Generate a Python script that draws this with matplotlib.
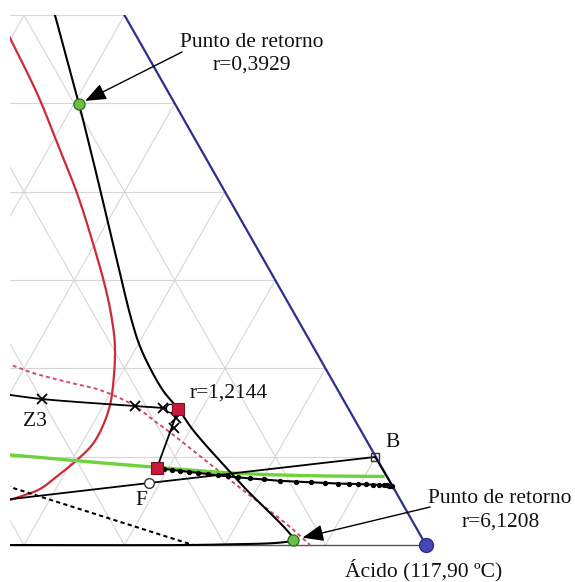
import numpy as np
import matplotlib
matplotlib.use("Agg")
import matplotlib.pyplot as plt
from matplotlib.patches import Rectangle

# compositions are (x_acido, x_top); the third component is 1 - both
H = np.sqrt(3) / 2

# boundary curve through both return points (runs along the base at the end)
bound_a = [0.3096, 0.3307, 0.3682, 0.4050, 0.4409, 0.4773, 0.5149, 0.5486, 0.5796, 0.6016,
           0.6273, 0.6527, 0.6767, 0.7031, 0.7829, 0.8649, 0.8598, 0.8438, 0.8046, 0.7652, 0.55]
bound_t = [0.6285, 0.6002, 0.5493, 0.4994, 0.4496, 0.3986, 0.3454, 0.2978, 0.2548, 0.2265,
           0.1982, 0.1733, 0.1540, 0.1302, 0.0680, 0.0057, 0.0037, 0.0019, 0.0008, 0.0, 0.0]

# liquid-liquid envelope
env_a = [0.2692, 0.2990, 0.3309, 0.3639, 0.4073, 0.4534, 0.4950, 0.5372, 0.5602, 0.5772, 0.5933,
         0.6063, 0.6113, 0.6111, 0.6046, 0.5956, 0.5842, 0.5703, 0.5606, 0.5484]
env_t = [0.6059, 0.5742, 0.5402, 0.5040, 0.4530, 0.3986, 0.3454, 0.2888, 0.2548, 0.2265, 0.1925,
         0.1586, 0.1325, 0.1133, 0.0963, 0.0804, 0.0634, 0.0555, 0.0510, 0.0453]

# dashed red curve
red_dash_a = [0.4680, 0.4842, 0.5116, 0.5505, 0.5878, 0.6292, 0.6576, 0.6772, 0.7682, 0.8545, 0.8846]
red_dash_t = [0.2061, 0.2039, 0.1948, 0.1846, 0.1755, 0.1586, 0.1416, 0.1302, 0.0736, 0.0204, 0.0]

# green curve
green_a = [0.5199, 0.5351, 0.6081, 0.6842, 0.7672, 0.8352, 0.9184]
green_t = [0.1025, 0.1019, 0.0951, 0.0883, 0.0815, 0.0787, 0.0776]

# black dashed line
black_dash_a = [0.5355, 0.7682]
black_dash_t = [0.0711, 0.0]

# mass balance line through F and B, then B down the edge
bal_a = [0.54, 0.6893, 0.8995, 0.932]
bal_t = [0.049, 0.0702, 0.0997, 0.068]
F_pt = (0.6893, 0.0702)
B_pt = (0.8995, 0.0997)

# Z3 line up to the r=1,2144 point
z3_a = [0.4850, 0.5012, 0.5352, 0.6317, 0.6607, 0.6680, 0.6767]
z3_t = [0.1721, 0.1699, 0.1653, 0.1574, 0.1552, 0.1546, 0.1540]
z3_cross_a = [0.5352, 0.6317, 0.6607, 0.6793, 0.6830]
z3_cross_t = [0.1653, 0.1574, 0.1552, 0.1438, 0.1325]
z3_circ = (0.6680, 0.1546)

# the two red squares
sq_a = [0.6767, 0.6887]
sq_t = [0.1540, 0.0872]

# stage profile
stage_a = [0.6887, 0.6963, 0.7048, 0.7132, 0.7228, 0.7323, 0.7430, 0.7535, 0.7642, 0.7746,
           0.7872, 0.8017, 0.8183, 0.8347, 0.8501, 0.8643, 0.8776, 0.8887, 0.8978, 0.9060,
           0.9131, 0.9191, 0.9243, 0.9275, 0.9296, 0.9312, 0.9323]
stage_t = [0.0872, 0.0861, 0.0851, 0.0840, 0.0828, 0.0817, 0.0803, 0.0789, 0.0777, 0.0766,
           0.0754, 0.0742, 0.0727, 0.0718, 0.0710, 0.0703, 0.0696, 0.0693, 0.0690, 0.0686,
           0.0683, 0.0681, 0.0678, 0.0674, 0.0671, 0.0669, 0.0668]

ret1 = (0.405, 0.4994)
ret2 = (0.8649, 0.0057)
acid = (1.0, 0.0)


def xy(a, t):
    a = np.asarray(a, float)
    t = np.asarray(t, float)
    return a + t / 2, t * H


def smooth(x, y, n=16):
    # centripetal Catmull-Rom through the points
    p = np.column_stack([x, y])
    p = np.vstack([2 * p[0] - p[1], p, 2 * p[-1] - p[-2]])
    out = []
    for i in range(1, len(p) - 2):
        p0, p1, p2, p3 = p[i - 1], p[i], p[i + 1], p[i + 2]
        t0 = 0.0
        t1 = t0 + np.linalg.norm(p1 - p0) ** 0.5
        t2 = t1 + np.linalg.norm(p2 - p1) ** 0.5
        t3 = t2 + np.linalg.norm(p3 - p2) ** 0.5
        s = np.linspace(t1, t2, n, endpoint=False)[:, None]
        a1 = (t1 - s) / (t1 - t0) * p0 + (s - t0) / (t1 - t0) * p1
        a2 = (t2 - s) / (t2 - t1) * p1 + (s - t1) / (t2 - t1) * p2
        a3 = (t3 - s) / (t3 - t2) * p2 + (s - t2) / (t3 - t2) * p3
        b1 = (t2 - s) / (t2 - t0) * a1 + (s - t0) / (t2 - t0) * a2
        b2 = (t3 - s) / (t3 - t1) * a2 + (s - t1) / (t3 - t1) * a3
        out.append((t2 - s) / (t2 - t1) * b1 + (s - t1) / (t2 - t1) * b2)
    out.append(p[-2][None])
    c = np.vstack(out)
    return c[:, 0], c[:, 1]


def fig_px(x, y):
    return (x / 575, 1 - y / 582)


fig = plt.figure(figsize=(5.75, 5.82), dpi=100)
ax = fig.add_axes([0, 0, 1, 1])
ax.set_xlim(0.57612, 1.14826)
ax.set_ylim(-0.03629, 0.53452)
ax.axis("off")

clip = Rectangle((0.5861, -1.0), 2.0, 1.0 + 0.6 * H, transform=ax.transData)


def draw(a, t, curve=False, **kw):
    x, y = xy(a, t)
    if curve:
        x, y = smooth(x, y)
    ln, = ax.plot(x, y, **kw)
    ln.set_clip_path(clip)
    return ln


# grid
g = dict(color="#d6d6d6", lw=0.8, zorder=1)
for k in range(1, 10):
    v = k / 10
    draw([v, v], [0, 1 - v], **g)          # constant acid
    draw([0, 1 - v], [v, v], **g)          # constant top
    draw([1 - v, 0], [0, 1 - v], **g)      # constant third
draw([0, 1], [0, 0], color="#555555", lw=1.0, zorder=2)
draw([1, 0], [0, 1], color="#2e2e8c", lw=1.6, zorder=3)

draw(env_a, env_t, curve=True, color="#cc2a36", lw=1.6, zorder=3)
draw(red_dash_a, red_dash_t, curve=True, color="#d4486e", lw=1.4, ls=(0, (2, 1.6)), zorder=3)
draw(black_dash_a, black_dash_t, color="black", lw=1.5, ls=(0, (2, 1.6)), zorder=3)
draw(green_a, green_t, curve=True, color="#6fd23c", lw=2.4, zorder=3)
draw(bound_a, bound_t, curve=True, color="black", lw=1.5, zorder=4)
draw(bal_a, bal_t, color="black", lw=1.3, zorder=4)
draw(z3_a, z3_t, curve=True, color="black", lw=1.3, zorder=4)
draw([sq_a[0], sq_a[1]], [sq_t[0], sq_t[1]], color="black", lw=1.3, zorder=4)
draw(stage_a, stage_t, color="black", lw=1.5, marker="o", ms=2.8, zorder=5)

draw(z3_cross_a, z3_cross_t, ls="none", marker="x", ms=7, mew=1.3, color="black", zorder=6)
draw([z3_circ[0]], [z3_circ[1]], ls="none", marker="o", ms=6, mfc="white", mec="black", mew=1.0, zorder=6)
draw([F_pt[0]], [F_pt[1]], ls="none", marker="o", ms=7, mfc="white", mec="#333333", mew=1.0, zorder=6)
draw([B_pt[0]], [B_pt[1]], ls="none", marker="s", ms=6, mfc="none", mec="#333333", mew=1.0, zorder=6)
draw(sq_a, sq_t, ls="none", marker="s", ms=8, mfc="#c8183c", mec="#7a0f20", mew=0.8, zorder=7)
draw([ret1[0], ret2[0]], [ret1[1], ret2[1]], ls="none", marker="o", ms=8,
     mfc="#6cbf45", mec="#2f6b1f", mew=0.9, zorder=7)
draw([acid[0]], [acid[1]], ls="none", marker="o", ms=10, mfc="#4646b4", mec="#2e2e8c", zorder=7)

font = dict(family="Liberation Serif", size=15.5, color="#111111")
arrow = dict(arrowstyle="-|>,head_length=0.8,head_width=0.32", color="black", lw=1.0,
             mutation_scale=16, shrinkA=0)

ax.annotate("", xy=xy(*ret1), xycoords="data", xytext=fig_px(182, 52),
            textcoords="figure fraction", arrowprops=dict(arrow, shrinkB=5))
ax.annotate("", xy=xy(*ret2), xycoords="data", xytext=fig_px(430, 507),
            textcoords="figure fraction", arrowprops=dict(arrow, shrinkB=7))

fig.text(*fig_px(252, 47), "Punto de retorno", ha="center", va="baseline", **font)
fig.text(*fig_px(252, 70), "r=0,3929", ha="center", va="baseline", **font)
fig.text(*fig_px(500, 503), "Punto de retorno", ha="center", va="baseline", **font)
fig.text(*fig_px(501, 527), "r=6,1208", ha="center", va="baseline", **font)
fig.text(*fig_px(424, 576), "Ácido (117,90 ºC)", ha="center", va="baseline", **font)
fig.text(*fig_px(190, 398), "r=1,2144", ha="left", va="baseline", **font)
fig.text(*fig_px(23, 426), "Z3", ha="left", va="baseline", **font)
fig.text(*fig_px(135, 505), "F", ha="left", va="baseline", **font)
fig.text(*fig_px(385, 447), "B", ha="left", va="baseline", **font)

fig.savefig("out.png", dpi=100)
